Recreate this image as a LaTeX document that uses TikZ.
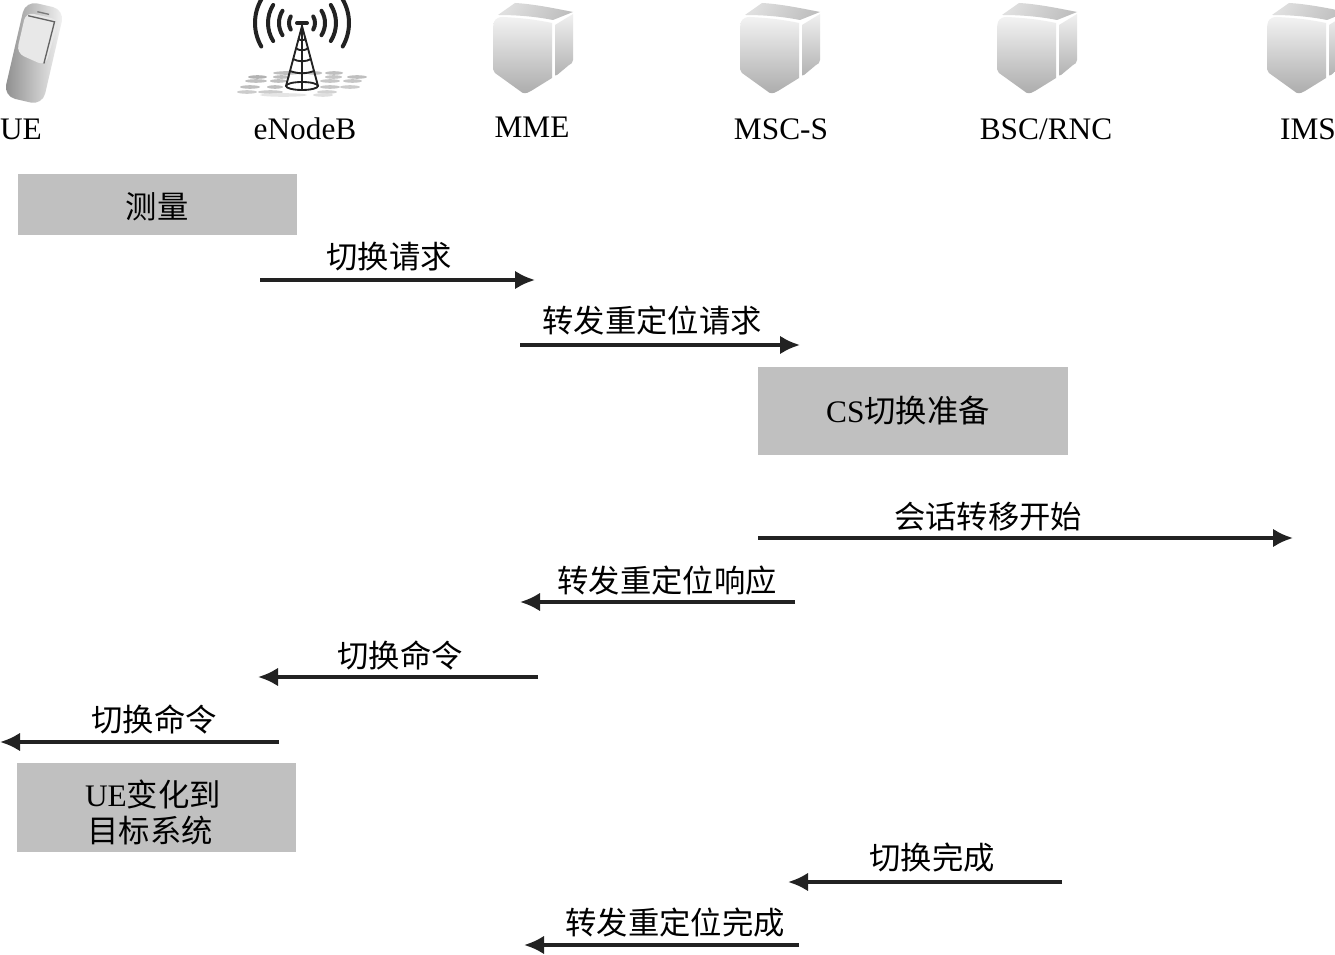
\documentclass[tikz,border=0pt]{standalone}
\usepackage{fontspec}
\setmainfont{Liberation Serif}
\newfontfamily\cjk{Noto Sans CJK SC}
\usetikzlibrary{arrows.meta,shadings}
\definecolor{inkc}{HTML}{222222}
\definecolor{boxc}{HTML}{C0C0C0}
\tikzset{
  lab/.style={font=\fontsize{23.5}{28}\selectfont,text=black,inner sep=0pt,align=center},
  stepbox/.style={fill=boxc,draw=none,inner sep=0pt},
  msg/.style={draw=inkc,line width=2.6pt,-{Latex[length=15pt,width=14pt]}},
  wave/.style={draw=inkc,line width=3pt,line cap=round},
  tower/.style={draw=inkc,line width=1.4pt}
}
\newcommand{\serverat}[1]{%
\begin{scope}[shift={(#1,0)}]
  \shade[top color=gray!25,bottom color=gray!50,shading angle=60]
    (5,15) -- (22,3) .. controls (40,4) and (60,8) .. (80,12) -- (60,20) .. controls (40,16) and (20,15) .. (5,15) -- cycle;
  \shade[top color=gray!10,bottom color=gray!65]
    (0,30) .. controls (0,20) and (3,17) .. (10,17) .. controls (30,18) and (45,20) .. (59,23)
    -- (59,78) -- (38,91) .. controls (33,94) and (30,94) .. (27,91) -- (2,73) .. controls (0,70) and (0,70) .. (0,65) -- cycle;
  \shade[top color=gray!12,bottom color=gray!60]
    (62,25) -- (80,14) -- (80,60) .. controls (80,63) and (78,64) .. (76,65) -- (64,75) .. controls (62,76) and (62,76) .. (62,72) -- cycle;
\end{scope}}
\begin{document}
\begin{tikzpicture}[x=0.75pt,y=-0.75pt]
\clip (0,0) rectangle (1335,955);
\fill[white] (0,0) rectangle (1335,955);
% phone
\begin{scope}[shift={(34,53)},rotate=-13]
  \shade[left color=gray!90,right color=gray!8,rounded corners=9pt]
    (-20,-49) rectangle (20,49);
  \fill[gray!18,rounded corners=6pt] (-17,-38) -- (17,-38) -- (14,10) -- (-17,4) -- cycle;
  \draw[inkc!70,line width=1pt] (-14,-35) -- (13,-35) -- (12,8);
  \draw[inkc!60,line width=1pt] (-6,-41) -- (6,-41);
\end{scope}
% antenna
\foreach \yy/\xa/\xb/\sh in {73/273/300/50,73/307/322/50,73/325/343/50,
 77/248/267/60,77/273/290/50,77/325/342/45,77/347/367/50,
 81/245/267/50,81/270/287/50,81/320/340/45,81/343/362/45,
 87/240/260/50,87/267/283/50,87/320/340/45,87/340/360/40,
 92/237/257/40,92/258/283/40,92/317/337/35,
 95/260/307/20,95/313/333/25}{
  \fill[gray!\sh!white] ({(\xa+\xb)/2},\yy) ellipse ({(\xb-\xa)/2} and 1.8);}
\foreach \r/\a in {13/30,23/32,34/32,47/30}{
  \draw[wave] ({302-\r*cos(\a)},{23-\r*sin(\a)}) arc[start angle=180-\a,end angle=180+\a,radius=\r,y radius=-\r];
  \draw[wave] ({302+\r*cos(\a)},{23-\r*sin(\a)}) arc[start angle=\a,end angle=-\a,radius=\r,y radius=-\r];
}
\draw[wave] (297,23) -- (307,23);
\draw[tower] (302,26) -- (286,86) (302,26) -- (318,86) (302,22) -- (302,90);
\draw[tower] (302,86) ellipse (16 and 4);
\foreach \yy/\w in {38/3.5,48/6,59/9,71/12}{\draw[tower] ({302-\w},\yy) .. controls (298,{\yy+3}) and (306,{\yy+3}) .. ({302+\w},\yy);}
% servers
\serverat{493}
\serverat{740}
\serverat{997}
\serverat{1267}
% header labels
\node[lab] (ue) at (21,129.5) {UE};
\node[lab] (enb) at (305,129) {eNodeB};
\node[lab] (mme) at (532,127.5) {MME};
\node[lab] (msc) at (781,129.5) {MSC-S};
\node[lab] (bsc) at (1046,129.5) {BSC/RNC};
\node[lab] (ims) at (1308,129.5) {IMS};
% step boxes
\node[stepbox,minimum width=209.25pt,minimum height=45.75pt] (meas) at (157.5,204.5) {};
\node[stepbox,minimum width=232.5pt,minimum height=66pt] (prep) at (913,411) {};
\node[stepbox,minimum width=209.25pt,minimum height=66.75pt] (chg) at (156.5,807.5) {};
\node[lab] (tmeas) at (157,207) {\cjk 测量};
\node[lab] (tprep) at (908,411) {CS{\cjk 切换准备}};
\node[lab] (tchga) at (153,794) {UE{\cjk 变化到}};
\node[lab] (tchgb) at (150,831) {\cjk 目标系统};
% connector ends
\coordinate (a1s) at (260,280); \coordinate (a1e) at (535,280);
\coordinate (a2s) at (520,345); \coordinate (a2e) at (800,345);
\coordinate (a3s) at (758,538); \coordinate (a3e) at (1293,538);
\coordinate (a4s) at (795,602); \coordinate (a4e) at (520,602);
\coordinate (a5s) at (538,677); \coordinate (a5e) at (258,677);
\coordinate (a6s) at (279,742); \coordinate (a6e) at (0,742);
\coordinate (a7s) at (1062,882); \coordinate (a7e) at (788,882);
\coordinate (a8s) at (799,945); \coordinate (a8e) at (524,945);
\draw[msg] (a1s) -- (a1e);
\draw[msg] (a2s) -- (a2e);
\draw[msg] (a3s) -- (a3e);
\draw[msg] (a4s) -- (a4e);
\draw[msg] (a5s) -- (a5e);
\draw[msg] (a6s) -- (a6e);
\draw[msg] (a7s) -- (a7e);
\draw[msg] (a8s) -- (a8e);
% message labels
\node[lab] (l1) at (389,257) {\cjk 切换请求};
\node[lab] (l2) at (652,321) {\cjk 转发重定位请求};
\node[lab] (l3) at (988,516.5) {\cjk 会话转移开始};
\node[lab] (l4) at (667,581) {\cjk 转发重定位响应};
\node[lab] (l5) at (400,655) {\cjk 切换命令};
\node[lab] (l6) at (154,719) {\cjk 切换命令};
\node[lab] (l7) at (932,858) {\cjk 切换完成};
\node[lab] (l8) at (675,923) {\cjk 转发重定位完成};
\end{tikzpicture}
\end{document}
